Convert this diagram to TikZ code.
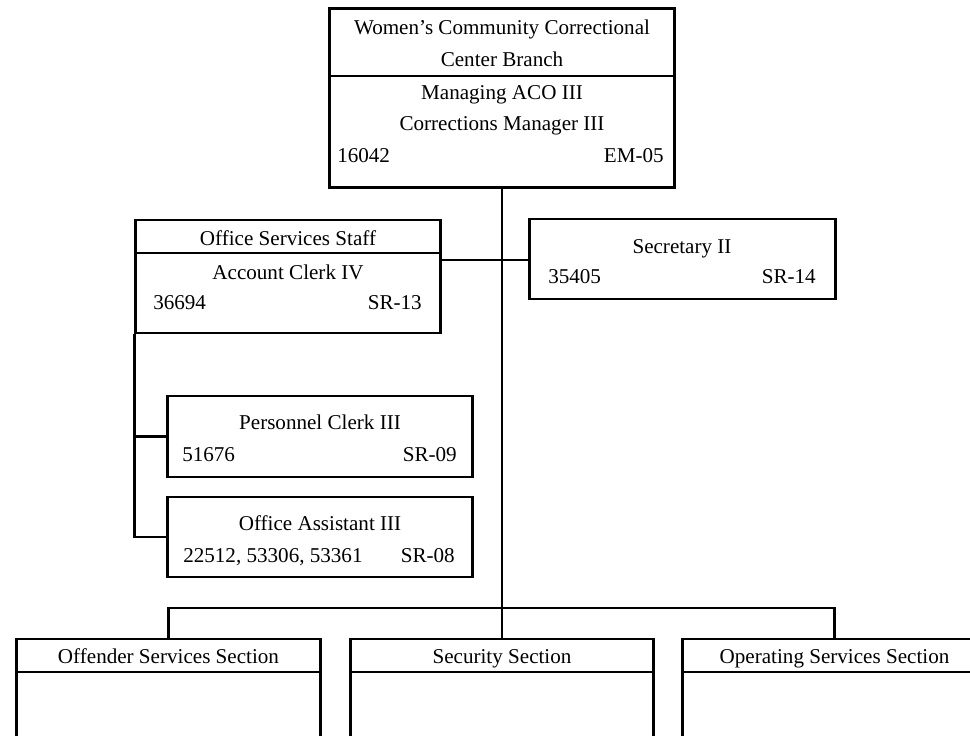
\documentclass[tikz,border=0pt]{standalone}
\usepackage{fontspec}
\setmainfont{Liberation Serif}
\usepackage{tikz}
\usetikzlibrary{positioning}
\tikzset{
  box/.style={draw, line width=2.1pt, inner sep=0pt},
  lbl/.style={font=\fontsize{15}{18}\selectfont, inner sep=0pt, text height=12pt, text depth=1pt},
  link/.style={line width=2.1pt},
}

\begin{document}
\begin{tikzpicture}[x=0.025cm, y=-0.025cm]
\useasboundingbox (0,0) rectangle (970,735);
\clip (0,0) rectangle (970,735);
% boxes
\node[box, minimum width=8.625cm, minimum height=4.45cm]  (branch) at (502,98) {};
\node[box, minimum width=7.6cm, minimum height=2.825cm]   (office) at (288,276.5) {};
\node[box, minimum width=7.625cm, minimum height=2cm]     (secy) at (682.5,259) {};
\node[box, minimum width=7.6cm, minimum height=2.025cm]   (pclerk) at (320,436.5) {};
\node[box, minimum width=7.6cm, minimum height=2cm]       (oasst) at (320,537) {};
\node[box, minimum width=7.575cm, minimum height=3.025cm] (offsec) at (168.5,699.5) {};
\node[box, minimum width=7.575cm, minimum height=3.025cm] (secsec) at (502,699.5) {};
\node[box, minimum width=7.575cm, minimum height=3.025cm] (opsec) at (834.5,699.5) {};
% header rules
\draw[link] (branch.west |- 0,76) -- (branch.east |- 0,76);
\draw[link] (office.west |- 0,253) -- (office.east |- 0,253);
\draw[link] (offsec.west |- 0,672) -- (offsec.east |- 0,672);
\draw[link] (secsec.west |- 0,672) -- (secsec.east |- 0,672);
\draw[link] (opsec.west |- 0,672) -- (opsec.east |- 0,672);
% texts
\node[lbl] (branchA) at (502,27) {Women's Community Correctional};
\node[lbl] (branchB) at (502,59) {Center Branch};
\node[lbl] (branchC) at (502,92) {Managing ACO III};
\node[lbl] (branchD) at (502,123) {Corrections Manager III};
\node[lbl, anchor=west] (branchno) at (337,155) {16042};
\node[lbl, anchor=east] (branchsr) at (664,155) {EM-05};
\node[lbl] (officeA) at (288,238) {Office Services Staff};
\node[lbl] (officeB) at (288,272) {Account Clerk IV};
\node[lbl, anchor=west] (officeno) at (153,302) {36694};
\node[lbl, anchor=east] (officesr) at (422,302) {SR-13};
\node[lbl] (secyA) at (682,246) {Secretary II};
\node[lbl, anchor=west] (secyno) at (548,276) {35405};
\node[lbl, anchor=east] (secysr) at (816,276) {SR-14};
\node[lbl] (pclerkA) at (320,422) {Personnel Clerk III};
\node[lbl, anchor=west] (pclerkno) at (182,454) {51676};
\node[lbl, anchor=east] (pclerksr) at (457,454) {SR-09};
\node[lbl] (oasstA) at (320,523) {Office Assistant III};
\node[lbl, anchor=west] (oasstno) at (183,555) {22512, 53306, 53361};
\node[lbl, anchor=east] (oasstsr) at (455,555) {SR-08};
\node[lbl] (offsecA) at (168.5,656) {Offender Services Section};
\node[lbl] (secsecA) at (502,656) {Security Section};
\node[lbl] (opsecA) at (834.5,656) {Operating Services Section};
% connectors
\coordinate (bus) at (502,608);
\coordinate (tie) at (502,260);
\draw[link] (branch.south) -- (secsec.north);
\draw[link] (offsec.north) |- (bus) -| (opsec.north);
\draw[link] (office.east |- tie) -- (secy.west |- tie);
\draw[link] (office.south west) |- (pclerk.west);
\draw[link] (office.south west) |- (oasst.west);
\end{tikzpicture}
\end{document}
